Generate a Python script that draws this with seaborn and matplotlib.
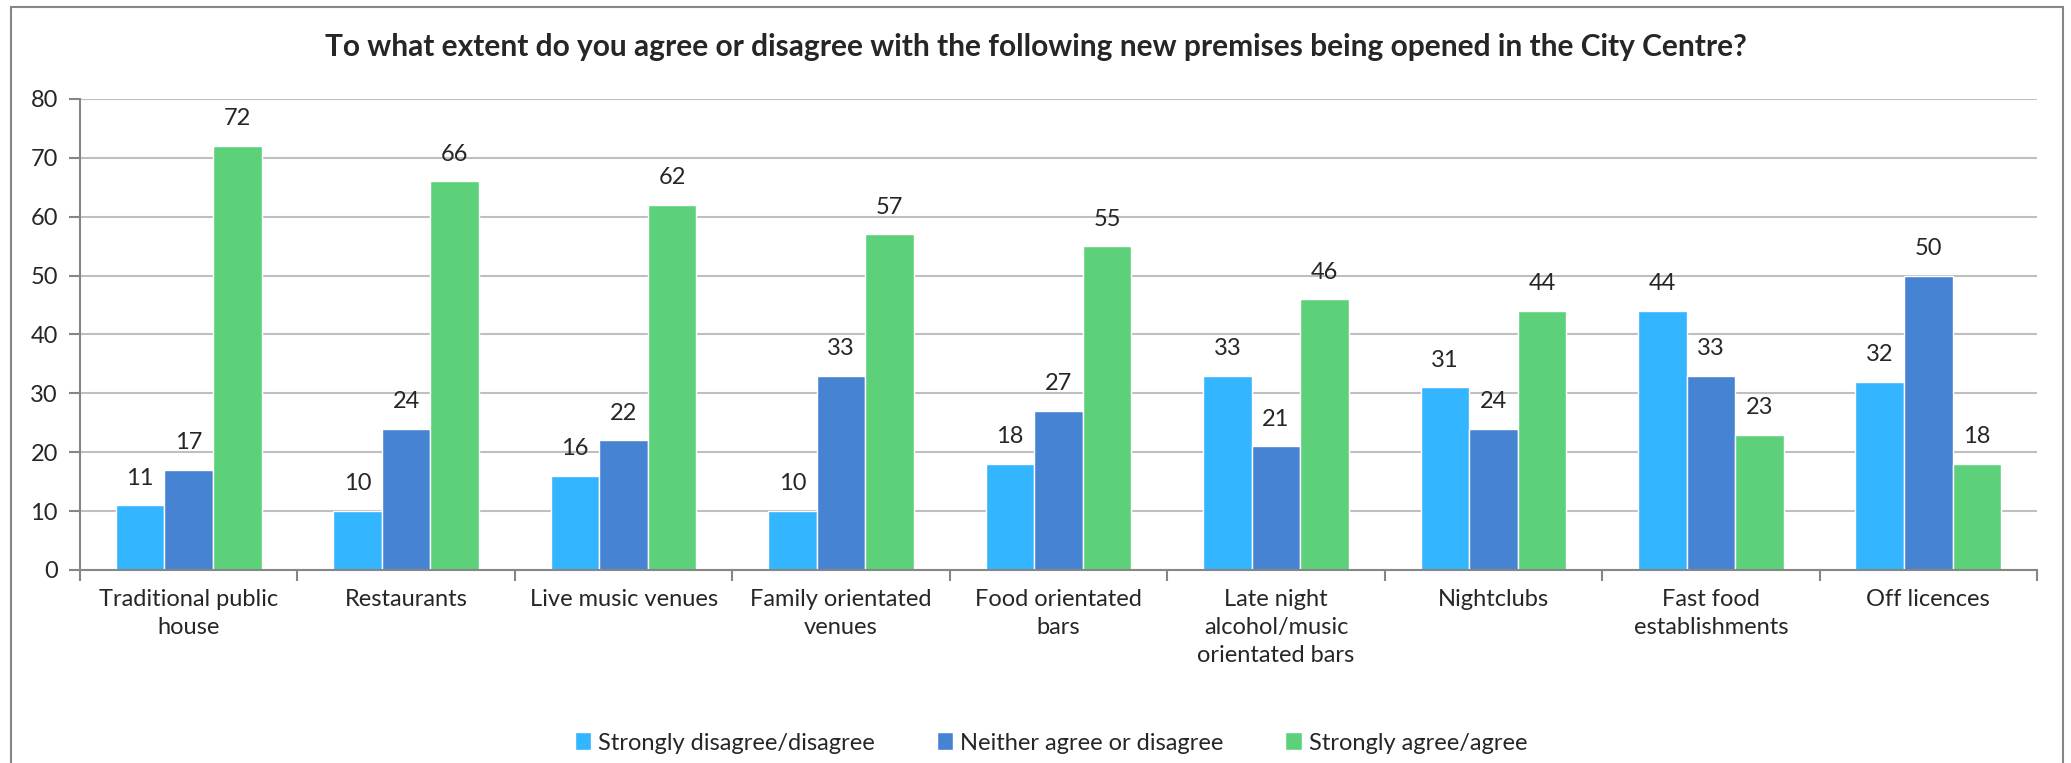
import matplotlib
matplotlib.use("Agg")
import matplotlib.pyplot as plt
import seaborn as sns
import pandas as pd
import numpy as np
from matplotlib.patches import Rectangle

categories = [
    "Traditional public\nhouse", "Restaurants", "Live music venues",
    "Family orientated\nvenues", "Food orientated\nbars",
    "Late night\nalcohol/music\norientated bars", "Nightclubs",
    "Fast food\nestablishments", "Off licences",
]
series = ["Strongly disagree/disagree", "Neither agree or disagree", "Strongly agree/agree"]
disagree = [11, 10, 16, 10, 18, 33, 31, 44, 32]
neither = [17, 24, 22, 33, 27, 21, 24, 33, 50]
agree = [72, 66, 62, 57, 55, 46, 44, 23, 18]
colors = ["#33B5FF", "#4683D3", "#5CD17A"]

df = pd.DataFrame({
    "category": categories * 3,
    "series": [series[0]] * 9 + [series[1]] * 9 + [series[2]] * 9,
    "value": disagree + neither + agree,
})

sns.set_style("white")
plt.rcParams["font.family"] = ["Lato", "DejaVu Sans"]

fig = plt.figure(figsize=(20.71, 7.63), dpi=100)
ax = fig.add_axes([80 / 2071, 1 - 570 / 763, (2037 - 80) / 2071, (570 - 99) / 763])

sns.barplot(data=df, x="category", y="value", hue="series", palette=colors,
            width=0.67, edgecolor="white", linewidth=1, saturation=1, ax=ax)

for cont in ax.containers:
    ax.bar_label(cont, padding=12, fontsize=17)

ax.set_ylim(0, 80)
ax.set_xlim(-0.5, 8.5)
ax.set_yticks(range(0, 81, 10))
ax.yaxis.grid(True, color="#BFBFBF", linewidth=1.5)
ax.set_axisbelow(True)
ax.set_xlabel("")
ax.set_ylabel("")

for s in ["top", "right"]:
    ax.spines[s].set_visible(False)
for s in ["left", "bottom"]:
    ax.spines[s].set_color("#868686")
    ax.spines[s].set_linewidth(1.5)

ax.tick_params(axis="y", length=8, width=1.5, color="#868686", labelsize=17, pad=8, left=True)
ax.tick_params(axis="x", which="major", length=0, labelsize=17, pad=14)
ax.set_xticks(np.arange(-0.5, 9, 1), minor=True)
ax.tick_params(axis="x", which="minor", length=8, width=1.5, color="#868686", bottom=True)
for lab in ax.get_xticklabels():
    lab.set_linespacing(1.4)

fig.suptitle("To what extent do you agree or disagree with the following new premises being opened in the City Centre?",
             x=1036 / 2071, y=1 - 47 / 763, va="center", fontsize=21.5, fontweight="bold")

ax.legend(loc="center", bbox_to_anchor=(1051 / 2071, (763 - 743) / 763), bbox_transform=fig.transFigure,
          ncol=3, frameon=False, fontsize=17, handlelength=0.7, handleheight=0.8,
          handletextpad=0.3, columnspacing=2.6)

fig.patches.append(Rectangle((11 / 2071, -0.05), (2063 - 11) / 2071, 1.05 - 7 / 763,
                             transform=fig.transFigure, fill=False,
                             edgecolor="#868686", linewidth=1.5, clip_on=False))

fig.savefig("out.png", dpi=100)
